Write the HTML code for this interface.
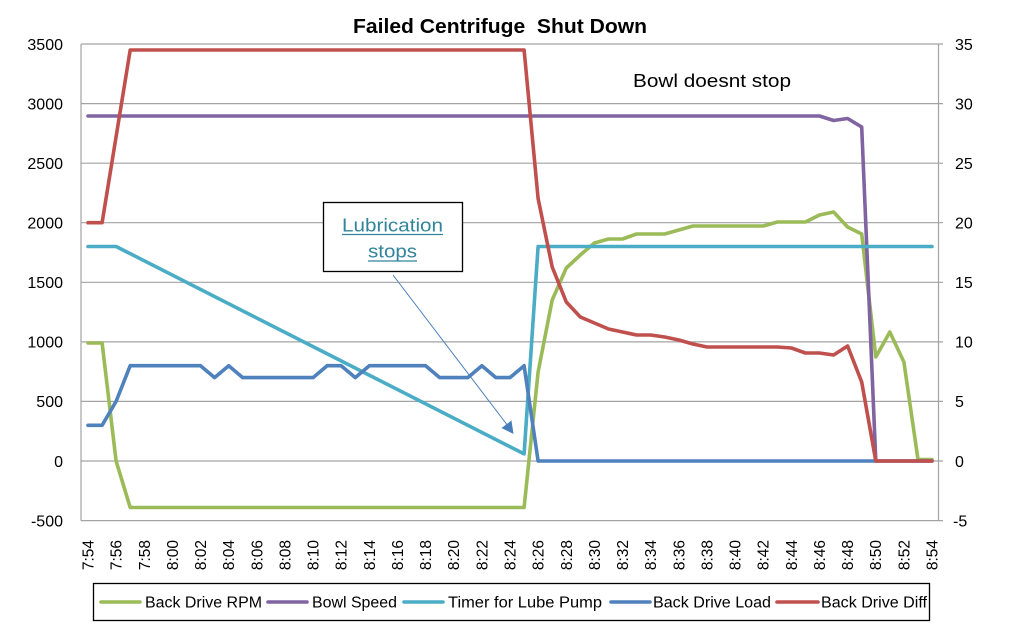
<!DOCTYPE html>
<html>
<head>
<meta charset="utf-8">
<style>
  html, body { margin: 0; padding: 0; background: #ffffff; }
  svg { display: block; }
  text { font-family: "Liberation Sans", "DejaVu Sans", sans-serif; fill: #000; }
</style>
</head>
<body>
<svg width="1024" height="629" viewBox="0 0 1024 629" xmlns="http://www.w3.org/2000/svg">
  <rect x="0" y="0" width="1024" height="629" fill="#ffffff"/>

  <!-- Title -->
  <text x="353" y="33" font-size="20" font-weight="bold" xml:space="preserve" style="white-space:pre" textLength="294" lengthAdjust="spacingAndGlyphs">Failed Centrifuge  Shut Down</text>

  <!-- Gridlines -->
  <g stroke="#a3a3a3" stroke-width="1.2" fill="none">
    <line x1="81" y1="44" x2="943" y2="44"/>
    <line x1="81" y1="103.6" x2="943" y2="103.6"/>
    <line x1="81" y1="163.2" x2="943" y2="163.2"/>
    <line x1="81" y1="222.7" x2="943" y2="222.7"/>
    <line x1="81" y1="282.3" x2="943" y2="282.3"/>
    <line x1="81" y1="341.9" x2="943" y2="341.9"/>
    <line x1="81" y1="401.4" x2="943" y2="401.4"/>
    <line x1="81" y1="461" x2="943" y2="461"/>
    <line x1="81" y1="520.6" x2="943" y2="520.6"/>
    <line x1="81" y1="44" x2="81" y2="520.6"/>
    <line x1="938.5" y1="44" x2="938.5" y2="520.6"/>
  </g>

  <!-- Left axis labels -->
  <g font-size="16" text-anchor="end">
    <text x="63" y="49.8">3500</text>
    <text x="63" y="109.4">3000</text>
    <text x="63" y="169">2500</text>
    <text x="63" y="228.5">2000</text>
    <text x="63" y="288.1">1500</text>
    <text x="63" y="347.7">1000</text>
    <text x="63" y="407.2">500</text>
    <text x="63" y="466.8">0</text>
    <text x="63" y="526.4">-500</text>
  </g>

  <!-- Right axis labels -->
  <g font-size="16">
    <text x="955" y="49.8">35</text>
    <text x="955" y="109.4">30</text>
    <text x="955" y="169">25</text>
    <text x="955" y="228.5">20</text>
    <text x="955" y="288.1">15</text>
    <text x="955" y="347.7">10</text>
    <text x="955" y="407.2">5</text>
    <text x="955" y="466.8">0</text>
    <text x="953" y="526.4">-5</text>
  </g>

  <!-- X axis labels -->
  <g font-size="15.5" text-anchor="end">
    <text transform="translate(93.5,540) rotate(-90)">7:54</text>
    <text transform="translate(121.6,540) rotate(-90)">7:56</text>
    <text transform="translate(149.8,540) rotate(-90)">7:58</text>
    <text transform="translate(177.9,540) rotate(-90)">8:00</text>
    <text transform="translate(206.0,540) rotate(-90)">8:02</text>
    <text transform="translate(234.2,540) rotate(-90)">8:04</text>
    <text transform="translate(262.3,540) rotate(-90)">8:06</text>
    <text transform="translate(290.4,540) rotate(-90)">8:08</text>
    <text transform="translate(318.6,540) rotate(-90)">8:10</text>
    <text transform="translate(346.7,540) rotate(-90)">8:12</text>
    <text transform="translate(374.8,540) rotate(-90)">8:14</text>
    <text transform="translate(403.0,540) rotate(-90)">8:16</text>
    <text transform="translate(431.1,540) rotate(-90)">8:18</text>
    <text transform="translate(459.2,540) rotate(-90)">8:20</text>
    <text transform="translate(487.4,540) rotate(-90)">8:22</text>
    <text transform="translate(515.5,540) rotate(-90)">8:24</text>
    <text transform="translate(543.6,540) rotate(-90)">8:26</text>
    <text transform="translate(571.8,540) rotate(-90)">8:28</text>
    <text transform="translate(599.9,540) rotate(-90)">8:30</text>
    <text transform="translate(628.0,540) rotate(-90)">8:32</text>
    <text transform="translate(656.2,540) rotate(-90)">8:34</text>
    <text transform="translate(684.3,540) rotate(-90)">8:36</text>
    <text transform="translate(712.4,540) rotate(-90)">8:38</text>
    <text transform="translate(740.6,540) rotate(-90)">8:40</text>
    <text transform="translate(768.7,540) rotate(-90)">8:42</text>
    <text transform="translate(796.8,540) rotate(-90)">8:44</text>
    <text transform="translate(825.0,540) rotate(-90)">8:46</text>
    <text transform="translate(853.1,540) rotate(-90)">8:48</text>
    <text transform="translate(881.2,540) rotate(-90)">8:50</text>
    <text transform="translate(909.4,540) rotate(-90)">8:52</text>
    <text transform="translate(937.5,540) rotate(-90)">8:54</text>
  </g>

  <!-- Series -->
  <g fill="none" stroke-width="3.6" stroke-linejoin="round" stroke-linecap="round">
    <!-- Back Drive RPM -->
    <polyline stroke="#9bbb59" points="88,343 102.1,343 116.1,461 130.2,507.5 524.1,507.5 538.1,372 552.2,300 566.3,268 580.3,255 594.4,243 608.5,239 622.5,239 636.6,234 664.7,234 678.8,230 692.9,226 763.2,226 777.3,222 805.4,222 819.5,215 833.6,212 847.6,227 861.7,234 875.8,357 889.8,332 903.9,362 918,459.5 932,459.5"/>
    <!-- Bowl Speed -->
    <polyline stroke="#8064a2" points="88,116 819.5,116 833.6,120.5 847.6,118.5 861.7,127 875.8,461 932,461"/>
    <!-- Timer for Lube Pump -->
    <polyline stroke="#4bacc6" points="88,246.5 116.1,246.5 524.1,453.9 538.1,246.5 932,246.5"/>
    <!-- Back Drive Load -->
    <polyline stroke="#4f81bd" points="88,425.3 102.1,425.3 116.1,401.4 130.2,365.7 200.5,365.7 214.6,377.6 228.7,365.7 242.7,377.6 313.1,377.6 327.1,365.7 341.2,365.7 355.3,377.6 369.3,365.7 425.6,365.7 439.7,377.6 467.8,377.6 481.9,365.7 495.9,377.6 510,377.6 524.1,365.7 538.1,461 932,461"/>
    <!-- Back Drive Diff -->
    <polyline stroke="#c0504d" points="88,222.7 102.1,222.7 130.2,50 524.1,50 538.1,198.5 552.2,267 566.3,302 580.3,317 594.4,323 608.5,329 622.5,332 636.6,335 650.7,335 664.7,337 678.8,340 692.9,344 706.9,347 777.3,347 791.4,348 805.4,353 819.5,353 833.6,355 847.6,346 861.7,382 875.8,461 932,461"/>
  </g>

  <!-- Bowl doesnt stop -->
  <text x="633" y="87" font-size="18.5" textLength="158" lengthAdjust="spacingAndGlyphs">Bowl doesnt stop</text>

  <!-- Annotation box -->
  <rect x="323.5" y="202.5" width="139" height="69" fill="#ffffff" stroke="#000" stroke-width="1.3"/>
  <text x="342" y="231.5" font-size="18.5" textLength="101" lengthAdjust="spacingAndGlyphs" style="fill:#31849b">Lubrication</text>
  <line x1="342" y1="234.5" x2="443" y2="234.5" stroke="#31849b" stroke-width="1.3"/>
  <text x="368" y="257.5" font-size="18.5" textLength="49" lengthAdjust="spacingAndGlyphs" style="fill:#31849b">stops</text>
  <line x1="368" y1="261" x2="417" y2="261" stroke="#31849b" stroke-width="1.3"/>

  <!-- Arrow -->
  <line x1="393" y1="275" x2="508" y2="426" stroke="#4a7ebb" stroke-width="1"/>
  <polygon points="513.5,434 501.5,428 511.5,420.5" fill="#4a7ebb"/>

  <!-- Legend -->
  <rect x="93.5" y="583.5" width="836" height="37" fill="#ffffff" stroke="#000" stroke-width="1.3"/>
  <g stroke-width="3.6" stroke-linecap="round">
    <line x1="101" y1="602" x2="140" y2="602" stroke="#9bbb59"/>
    <line x1="268" y1="602" x2="307" y2="602" stroke="#8064a2"/>
    <line x1="404" y1="602" x2="443" y2="602" stroke="#4bacc6"/>
    <line x1="611" y1="602" x2="650" y2="602" stroke="#4f81bd"/>
    <line x1="777" y1="602" x2="818" y2="602" stroke="#c0504d"/>
  </g>
  <g font-size="15.5">
    <text x="145" y="607.5" textLength="117" lengthAdjust="spacingAndGlyphs">Back Drive RPM</text>
    <text x="312" y="607.5" textLength="85" lengthAdjust="spacingAndGlyphs">Bowl Speed</text>
    <text x="448" y="607.5" textLength="154" lengthAdjust="spacingAndGlyphs">Timer for Lube Pump</text>
    <text x="653" y="607.5" textLength="118" lengthAdjust="spacingAndGlyphs">Back Drive Load</text>
    <text x="821" y="607.5" textLength="106" lengthAdjust="spacingAndGlyphs">Back Drive Diff</text>
  </g>
</svg>
</body>
</html>
